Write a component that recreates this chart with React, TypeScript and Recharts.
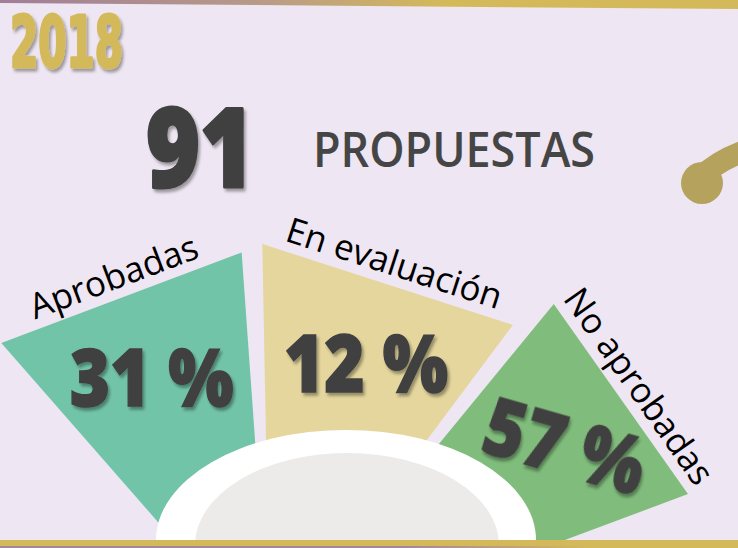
import React from "react";
import { PieChart, Pie, Customized } from "recharts";

const categories = ["Aprobadas", "En evaluación", "No aprobadas"];
const percents = [31, 12, 57];
const yearLabel = "2018";
const totalProposals = 91;
const totalLabel = "PROPUESTAS";

const data = categories.map((name, i) => ({ name, percent: percents[i] }));

const W = 738;
const H = 548;
const BG = "#EEE6F2";
const GOLD = "#D4B95A";
const DARK = "#404040";
const COLORS = ["#72C4A8", "#E4D69C", "#80BD7C"];
const PCT_TILT = [0, 0, 16];
const PCT_R = [0.74, 0.76, 0.8];
// reach of the outer corners (start, end) relative to outerRadius
const EDGE_REACH = [
  [0.96, 1.02],
  [1.04, 0.97],
  [1.06, 0.945],
];
const SQUASH = 0.8; // fan is seen slightly from above

function pt(cx: number, cy: number, r: number, deg: number) {
  const a = (deg * Math.PI) / 180;
  return { x: cx + r * Math.cos(a), y: cy - SQUASH * r * Math.sin(a) };
}

function corners(p: any) {
  const { cx, cy, startAngle, endAngle, outerRadius, index } = p;
  const [rs, re] = EDGE_REACH[index];
  return [pt(cx, cy, outerRadius * rs, startAngle), pt(cx, cy, outerRadius * re, endAngle)];
}

const renderWedge = (p: any) => {
  const { cx, cy, index } = p;
  const [a, b] = corners(p);
  return (
    <polygon
      points={`${cx},${cy} ${a.x},${a.y} ${b.x},${b.y}`}
      fill={COLORS[index]}
    />
  );
};

function Hub() {
  return (
    <g>
      <ellipse cx={346} cy={540} rx={190} ry={110} fill="#FFFFFF" />
      <ellipse cx={347} cy={545} rx={152} ry={92} fill="#ECEBE9" />
      <rect x={0} y={540} width={W} height={6} fill={GOLD} />
      <rect x={0} y={546} width={W} height={2} fill="url(#botBar)" />
    </g>
  );
}

const renderTexts = (p: any) => {
  const { cx, cy, midAngle, outerRadius, index, payload } = p;
  const [a, b] = corners(p);
  const dx = b.x - a.x;
  const dy = b.y - a.y;
  const len = Math.hypot(dx, dy);
  const ang = (Math.atan2(dy, dx) * 180) / Math.PI;
  const nx = dy / len;
  const ny = -dx / len;
  const mx = (a.x + b.x) / 2 + nx * 10;
  const my = (a.y + b.y) / 2 + ny * 10;
  const c = pt(cx, cy, outerRadius * PCT_R[index], midAngle);
  return (
    <g>
      {index === 0 && <Hub />}
      <text
        x={mx}
        y={my}
        transform={`rotate(${ang} ${mx} ${my})`}
        textAnchor="middle"
        fontSize={35}
        fontFamily="'Open Sans', 'Noto Sans', sans-serif"
        fill="#000"
      >
        {payload.name}
      </text>
      <text
        x={c.x - 82}
        y={c.y}
        dy="0.36em"
        transform={`rotate(${PCT_TILT[index]} ${c.x} ${c.y})`}
        fontSize={79}
        fontWeight={800}
        textLength={164}
        lengthAdjust="spacingAndGlyphs"
        fontFamily="'Open Sans', 'Noto Sans', sans-serif"
        fill={DARK}
        stroke={DARK}
        strokeWidth={1.5}
        filter="url(#txtShadow)"
      >
        {payload.percent} %
      </text>
    </g>
  );
};

function Decor() {
  return (
    <g>
      <defs>
        <filter id="txtShadow" x="-20%" y="-20%" width="140%" height="140%">
          <feDropShadow dx="2" dy="3" stdDeviation="1.8" floodColor="#000" floodOpacity="0.35" />
        </filter>
        <linearGradient id="topBar" x1="0" y1="0" x2="1" y2="0">
          <stop offset="0%" stopColor="#A07E98" />
          <stop offset="35%" stopColor="#B89A88" />
          <stop offset="60%" stopColor={GOLD} />
          <stop offset="100%" stopColor={GOLD} />
        </linearGradient>
        <linearGradient id="botBar" x1="0" y1="0" x2="1" y2="0">
          <stop offset="0%" stopColor="#A3879E" />
          <stop offset="55%" stopColor="#A3879E" />
          <stop offset="80%" stopColor={GOLD} />
          <stop offset="100%" stopColor={GOLD} />
        </linearGradient>
      </defs>
      <polygon points={`0,0 ${W},0 ${W},9 0,3`} fill="url(#topBar)" />
      <text
        x={10}
        y={67}
        fontSize={72}
        fontWeight={700}
        textLength={113}
        lengthAdjust="spacingAndGlyphs"
        fontFamily="'DejaVu Sans Condensed', 'DejaVu Sans', sans-serif"
        fill={GOLD}
        stroke={GOLD}
        strokeWidth={3}
        strokeLinejoin="round"
        filter="url(#txtShadow)"
      >
        {yearLabel}
      </text>
      <text
        x={146}
        y={187}
        fontSize={110}
        fontWeight={800}
        textLength={108}
        lengthAdjust="spacingAndGlyphs"
        fontFamily="'Open Sans', 'Noto Sans', sans-serif"
        fill={DARK}
        stroke={DARK}
        strokeWidth={3}
        strokeLinejoin="round"
        filter="url(#txtShadow)"
      >
        {totalProposals}
      </text>
      <text
        x={313}
        y={167}
        fontSize={48}
        fontWeight={600}
        textLength={282}
        lengthAdjust="spacingAndGlyphs"
        fontFamily="'Open Sans', 'Noto Sans', sans-serif"
        fill="#454545"
      >
        {totalLabel}
      </text>
      <path d="M 700 178 Q 716 162 742 152" stroke="#B5A25C" strokeWidth={22} fill="none" />
      <circle cx={702} cy={183} r={21} fill="#B5A25C" />
    </g>
  );
}

export default function App() {
  return (
    <div
      style={{
        position: "fixed",
        left: 0,
        top: 0,
        width: W,
        height: H,
        background: BG,
        overflow: "hidden",
      }}
    >
      <PieChart width={W} height={H} margin={{ top: 0, right: 0, bottom: 0, left: 0 }}>
        <Customized component={Decor} />
        <Pie
          data={data}
          dataKey={() => 1}
          nameKey="name"
          cx={270}
          cy={650}
          innerRadius={0}
          outerRadius={488}
          startAngle={125}
          endAngle={25}
          paddingAngle={2.4}
          fill="transparent"
          stroke="none"
          label={renderWedge}
          labelLine={false}
          isAnimationActive={false}
        />
        <Pie
          data={data}
          dataKey={() => 1}
          nameKey="name"
          cx={270}
          cy={650}
          innerRadius={0}
          outerRadius={488}
          startAngle={125}
          endAngle={25}
          paddingAngle={2.4}
          fill="transparent"
          stroke="none"
          label={renderTexts}
          labelLine={false}
          isAnimationActive={false}
        />
      </PieChart>
    </div>
  );
}
